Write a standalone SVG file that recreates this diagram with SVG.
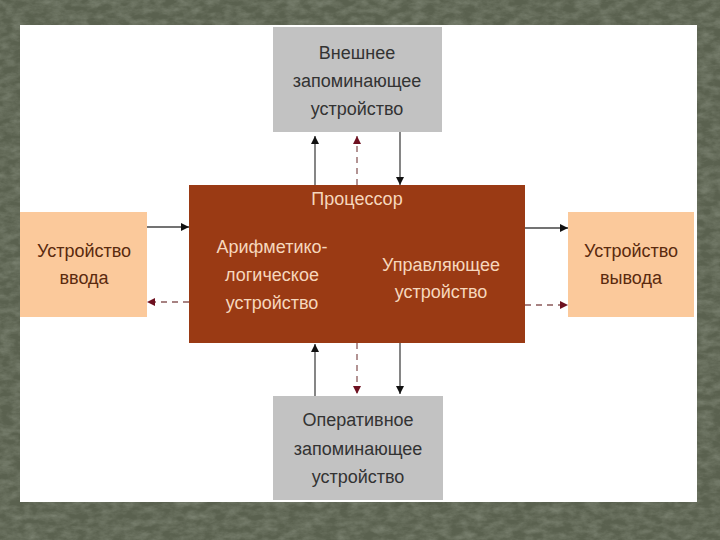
<svg xmlns="http://www.w3.org/2000/svg" width="720" height="540" viewBox="0 0 720 540">
<defs>
<filter id="tex" x="0" y="0" width="100%" height="100%">
<feTurbulence type="fractalNoise" baseFrequency="0.08 0.15" numOctaves="4" seed="7" result="n"/>
<feColorMatrix in="n" type="matrix" values="0 0 0 0 0.47  0 0 0 0 0.51  0 0 0 0 0.42  0 0 0 -1.6 1.1" result="c"/>
<feComposite in="c" in2="SourceGraphic" operator="in"/>
</filter>
<marker id="ab" viewBox="0 0 10 10" refX="10" refY="5" markerWidth="8" markerHeight="8" markerUnits="userSpaceOnUse" orient="auto"><path d="M0,0 L10,5 L0,10 z" fill="#111"/></marker>
<marker id="ar" viewBox="0 0 10 10" refX="10" refY="5" markerWidth="8" markerHeight="8" markerUnits="userSpaceOnUse" orient="auto"><path d="M0,0 L10,5 L0,10 z" fill="#6e1020"/></marker>
</defs>
<style>
.t{font-family:"Liberation Sans","DejaVu Sans",sans-serif;font-size:18px;text-anchor:middle}
.g{fill:#333333}
.p{fill:#5a2a0e}
.w{fill:#f6d7bd}
.s{stroke:#444;stroke-width:1.3;fill:none;marker-end:url(#ab)}
.d{stroke:#8a5a5a;stroke-width:1.3;stroke-dasharray:6,5;fill:none;marker-end:url(#ar)}
</style>
<rect x="0" y="0" width="720" height="540" fill="#5a614f"/>
<rect x="0" y="0" width="720" height="540" fill="#5a614f" filter="url(#tex)" opacity="0.35"/>
<rect x="20" y="25" width="677" height="477" fill="#ffffff"/>

<g id="ext-storage">
<rect x="273" y="27" width="169" height="105" fill="#c2c2c2"/>
<text class="t g" x="357" y="59">Внешнее</text>
<text class="t g" x="357" y="87">запоминающее</text>
<text class="t g" x="357" y="115">устройство</text>
</g>
<g id="processor">
<rect x="189" y="185" width="336" height="158" fill="#9a3a14"/>
<text class="t w" x="357" y="205">Процессор</text>
<text class="t w" x="272" y="253">Арифметико-</text>
<text class="t w" x="272" y="281">логическое</text>
<text class="t w" x="272" y="309">устройство</text>
<text class="t w" x="441" y="271">Управляющее</text>
<text class="t w" x="441" y="298">устройство</text>
</g>
<g id="input">
<rect x="20" y="212" width="127" height="105" fill="#fbc99b"/>
<text class="t p" x="84" y="257">Устройство</text>
<text class="t p" x="84" y="284">ввода</text>
</g>
<g id="output">
<rect x="568" y="212" width="126" height="105" fill="#fbc99b"/>
<text class="t p" x="631" y="257">Устройство</text>
<text class="t p" x="631" y="284">вывода</text>
</g>
<g id="ram">
<rect x="273" y="396" width="170" height="104" fill="#c2c2c2"/>
<text class="t g" x="358" y="426">Оперативное</text>
<text class="t g" x="358" y="455">запоминающее</text>
<text class="t g" x="358" y="483">устройство</text>
</g>
<g id="connectors">
<path class="s" d="M315,185 V136"/>
<path class="d" d="M357,185 V136"/>
<path class="s" d="M400,132 V185"/>
<path class="s" d="M315,396 V344"/>
<path class="d" d="M357,343 V394"/>
<path class="s" d="M400,343 V394"/>
<path class="s" d="M147,227 H189"/>
<path class="d" d="M189,302 H147"/>
<path class="s" d="M525,228 H568"/>
<path class="d" d="M525,305 H568"/>
</g>
</svg>
